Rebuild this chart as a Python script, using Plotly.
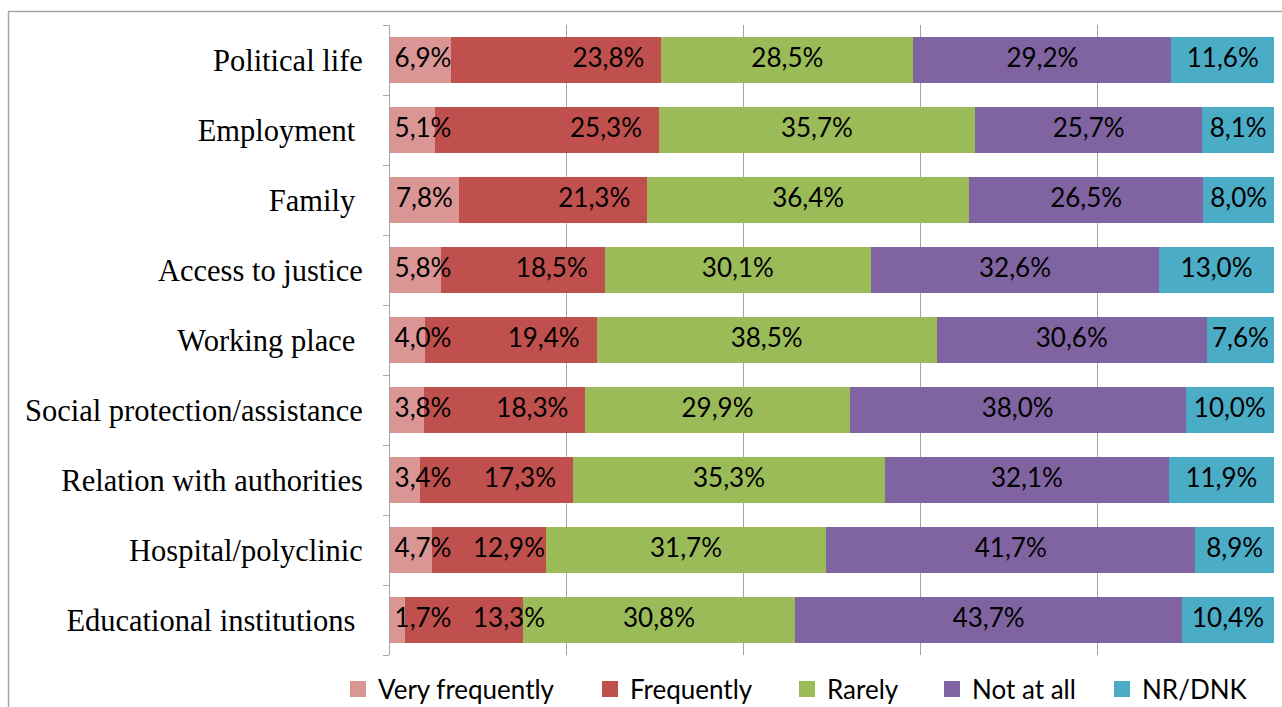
import plotly.graph_objects as go

# Survey: how often discrimination is perceived, by area of life (shares in %)
categories = [
    "Political life",
    "Employment",
    "Family",
    "Access to justice",
    "Working place",
    "Social protection/assistance",
    "Relation with authorities",
    "Hospital/polyclinic",
    "Educational institutions",
]
# Axis tick labels (some source labels carry a trailing space)
tick_labels = [
    "Political life",
    "Employment\u00a0",
    "Family\u00a0",
    "Access to justice",
    "Working place\u00a0",
    "Social protection/assistance",
    "Relation with authorities",
    "Hospital/polyclinic",
    "Educational institutions\u00a0",
]

series_names = ["Very frequently", "Frequently", "Rarely", "Not at all", "NR/DNK"]

very_frequently = [6.9, 5.1, 7.8, 5.8, 4.0, 3.8, 3.4, 4.7, 1.7]
frequently = [23.8, 25.3, 21.3, 18.5, 19.4, 18.3, 17.3, 12.9, 13.3]
rarely = [28.5, 35.7, 36.4, 30.1, 38.5, 29.9, 35.3, 31.7, 30.8]
not_at_all = [29.2, 25.7, 26.5, 32.6, 30.6, 38.0, 32.1, 41.7, 43.7]
nr_dnk = [11.6, 8.1, 8.0, 13.0, 7.6, 10.0, 11.9, 8.9, 10.4]

series_values = [very_frequently, frequently, rarely, not_at_all, nr_dnk]
colors = ["#D99694", "#C0504D", "#9BBB59", "#8064A2", "#4BACC6"]

LABEL_FONT = dict(family="Lato", size=26, color="black")

# Plot-area geometry in page pixels
W, H = 1282, 707
plot_l, plot_r, plot_t, plot_b = 390, 1274, 25, 655
pw, ph = plot_r - plot_l, plot_b - plot_t
PX = 100 / pw  # axis units per pixel


def pct_label(v):
    return f"{v:.1f}".replace(".", ",") + "%"


row_totals = [sum(col) for col in zip(*series_values)]

fig = go.Figure()

# 100 % stacked bars
for name, vals, col in zip(series_names, series_values, colors):
    fig.add_trace(go.Bar(
        y=categories,
        x=vals,
        orientation="h",
        name=name,
        marker=dict(color=col, line=dict(width=0)),
        showlegend=False,
        hoverinfo="skip",
    ))

# Data labels, placed on the normalised stack positions
starts = [0.0] * len(categories)
prev_xs = None
for k, vals in enumerate(series_values):
    norm = [v / t * 100 for v, t in zip(vals, row_totals)]
    ends = [s + n for s, n in zip(starts, norm)]
    mids = [(s + e) / 2 for s, e in zip(starts, ends)]
    if k == 0:
        # keep the narrow first labels clear of the axis line
        xs = [max(m, s + 33 * PX) for m, s in zip(mids, starts)]
    elif k == 1:
        # "Frequently" labels sit toward the right end of their segment
        xs = [max(e - 53 * PX, p + 86 * PX) for e, p in zip(ends, prev_xs)]
    else:
        xs = mids
    fig.add_trace(go.Scatter(
        y=categories,
        x=xs,
        mode="text",
        text=[pct_label(v) for v in vals],
        textposition="middle center",
        textfont=LABEL_FONT,
        cliponaxis=False,
        showlegend=False,
        hoverinfo="skip",
    ))
    starts = ends
    prev_xs = xs

# Legend entries: one legend box per series so each can be positioned freely
legend_centers = [358, 610, 807, 952, 1122]
legend_layout = {}
for i, (name, col, cx) in enumerate(zip(series_names, colors, legend_centers)):
    key = "legend" if i == 0 else f"legend{i + 1}"
    fig.add_trace(go.Scatter(
        x=[None], y=[None],
        mode="markers",
        name=name,
        legend=key,
        marker=dict(symbol="square", size=16, color=col),
        showlegend=True,
    ))
    legend_layout[key] = dict(
        orientation="h",
        xref="container",
        yref="container",
        x=(cx - 20) / W,
        xanchor="left",
        y=(H - 689) / H,
        yanchor="middle",
        font=dict(family="Lato", size=26, color="black"),
        itemsizing="trace",
        bgcolor="rgba(0,0,0,0)",
    )


def px_x(p):
    return (p - plot_l) / pw


def px_y(p):
    return (plot_b - p) / ph


# Outer chart frame (extends past the right and bottom page edges)
fig.add_shape(
    type="rect", xref="paper", yref="paper",
    x0=px_x(8.5), x1=px_x(1300), y0=px_y(11.5), y1=px_y(730),
    line=dict(color="#A6A6A6", width=1.5),
    fillcolor="rgba(0,0,0,0)",
    layer="below",
)

fig.update_layout(
    width=W,
    height=H,
    barmode="stack",
    barnorm="percent",
    bargap=0.34,
    paper_bgcolor="white",
    plot_bgcolor="white",
    margin=dict(l=plot_l, r=W - plot_r, t=plot_t, b=H - plot_b, autoexpand=False),
    xaxis=dict(
        range=[0, 100],
        dtick=20,
        showgrid=True,
        gridcolor="#A6A6A6",
        gridwidth=1,
        showticklabels=False,
        ticks="",
        zeroline=False,
        showline=False,
        fixedrange=True,
    ),
    yaxis=dict(
        type="category",
        categoryorder="array",
        categoryarray=categories,
        tickmode="array",
        tickvals=categories,
        ticktext=tick_labels,
        autorange="reversed",
        showline=True,
        linecolor="#A6A6A6",
        linewidth=1,
        ticks="outside",
        tickson="boundaries",
        ticklen=6,
        tickcolor="#A6A6A6",
        ticklabelstandoff=20,
        tickfont=dict(family="Liberation Serif", size=30.5, color="black"),
        showgrid=False,
        fixedrange=True,
    ),
    **legend_layout,
)

fig.write_html("out.html")
